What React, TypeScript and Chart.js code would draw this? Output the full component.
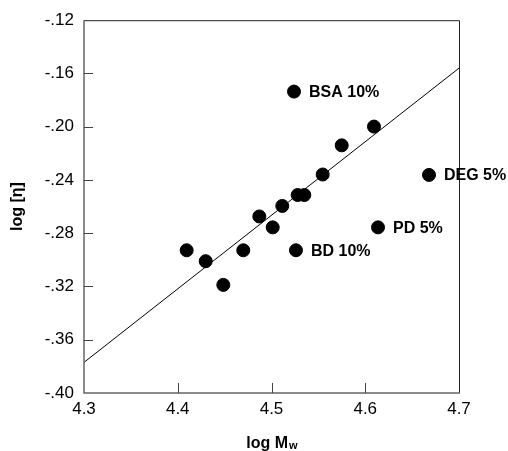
import React, { useEffect, useRef } from "react";
import { Chart, registerables } from "chart.js";

Chart.register(...registerables);

const xValues = [4.4095, 4.4298, 4.4486, 4.4699, 4.487, 4.5013, 4.5115, 4.5279, 4.535, 4.5546, 4.5749, 4.6093, 4.524, 4.668, 4.6136, 4.5261];
const yValues = [-0.2928, -0.301, -0.3188, -0.2928, -0.2674, -0.2756, -0.2595, -0.2513, -0.2513, -0.2359, -0.214, -0.1999, -0.1736, -0.2362, -0.2756, -0.2928];
const pointLabels = ["", "", "", "", "", "", "", "", "", "", "", "", "BSA 10%", "DEG 5%", "PD 5%", "BD 10%"];
const fitX = [4.3, 4.7];
const fitY = [-0.377, -0.156];
const xTicks = [4.3, 4.4, 4.5, 4.6, 4.7];
const yTicks = [-0.4, -0.36, -0.32, -0.28, -0.24, -0.2, -0.16, -0.12];
const xTitle = "log M";
const xTitleSub = "w";
const yTitle = "log [η]";

const FONT = "Arial, 'Liberation Sans', sans-serif";

const decorPlugin = {
  id: "decor",
  afterDraw(chart: any) {
    const { ctx, chartArea } = chart;
    const { left, right, top, bottom } = chartArea;
    const xs = chart.scales.x;
    const ys = chart.scales.y;
    ctx.save();
    // frame
    ctx.strokeStyle = "#222";
    ctx.lineWidth = 1;
    ctx.beginPath();
    ctx.moveTo(left, top + 0.5);
    ctx.lineTo(right + 0.5, top + 0.5);
    ctx.lineTo(right + 0.5, bottom);
    ctx.stroke();
    ctx.strokeStyle = "#666";
    ctx.lineWidth = 1.5;
    ctx.beginPath();
    ctx.moveTo(left, top);
    ctx.lineTo(left, bottom);
    ctx.lineTo(right + 1, bottom);
    ctx.stroke();
    // inward ticks
    ctx.lineWidth = 1;
    ctx.strokeStyle = "#444";
    ctx.beginPath();
    xTicks.slice(1, -1).forEach((v) => {
      const px = Math.round(xs.getPixelForValue(v)) + 0.5;
      ctx.moveTo(px, bottom);
      ctx.lineTo(px, bottom - 10);
    });
    yTicks.slice(1, -1).forEach((v) => {
      const py = Math.round(ys.getPixelForValue(v)) + 0.5;
      ctx.moveTo(left, py);
      ctx.lineTo(left + 9, py);
    });
    ctx.stroke();
    // point labels
    ctx.fillStyle = "#000";
    ctx.font = `bold 16px ${FONT}`;
    ctx.textAlign = "left";
    ctx.textBaseline = "middle";
    pointLabels.forEach((lab, i) => {
      if (!lab) return;
      const px = xs.getPixelForValue(xValues[i]);
      const py = ys.getPixelForValue(yValues[i]);
      ctx.fillText(lab, px + 15, py + 1);
    });
    // x title
    ctx.font = `bold 16px ${FONT}`;
    const w1 = ctx.measureText(xTitle).width;
    ctx.font = `bold 11px ${FONT}`;
    const w2 = ctx.measureText(xTitleSub).width;
    const cx = (left + right) / 2;
    const startX = cx - (w1 + w2) / 2;
    ctx.textBaseline = "alphabetic";
    ctx.font = `bold 16px ${FONT}`;
    ctx.fillText(xTitle, startX, 448);
    ctx.font = `bold 11px ${FONT}`;
    ctx.fillText(xTitleSub, startX + w1 + 1, 449);
    // y title
    ctx.translate(18, (top + bottom) / 2);
    ctx.rotate(-Math.PI / 2);
    ctx.font = `bold 16px ${FONT}`;
    ctx.textAlign = "center";
    ctx.textBaseline = "middle";
    ctx.fillText(yTitle, 0, 0);
    ctx.restore();
  },
};

export default function App() {
  const ref = useRef<HTMLCanvasElement>(null);
  useEffect(() => {
    document.body.style.margin = "0";
    const chart = new Chart(ref.current as HTMLCanvasElement, {
      type: "scatter",
      data: {
        datasets: [
          {
            type: "line",
            data: fitX.map((x, i) => ({ x, y: fitY[i] })),
            borderColor: "#000",
            borderWidth: 1,
            pointRadius: 0,
            fill: false,
          } as any,
          {
            data: xValues.map((x, i) => ({ x, y: yValues[i] })),
            backgroundColor: "#000",
            borderColor: "#000",
            pointRadius: 6.5,
            pointHoverRadius: 6.5,
          },
        ],
      },
      options: {
        animation: false,
        responsive: true,
        maintainAspectRatio: false,
        layout: { padding: { left: 0, right: 49, top: 17, bottom: 0 } },
        plugins: { legend: { display: false }, tooltip: { enabled: false } },
        events: [],
        scales: {
          x: {
            type: "linear",
            min: 4.3,
            max: 4.7,
            afterBuildTicks: (s: any) => {
              s.ticks = xTicks.map((v) => ({ value: v }));
            },
            afterFit: (s: any) => {
              s.height = 58;
            },
            grid: { display: false, drawTicks: false },
            border: { display: false },
            ticks: {
              padding: 6,
              color: "#000",
              font: { family: FONT, size: 17 },
              callback: (v: any) => Number(v).toFixed(1),
            },
          },
          y: {
            type: "linear",
            min: -0.4,
            max: -0.12,
            afterBuildTicks: (s: any) => {
              s.ticks = yTicks.map((v) => ({ value: v }));
            },
            afterFit: (s: any) => {
              s.width = 84;
            },
            grid: { display: false, drawTicks: false },
            border: { display: false },
            ticks: {
              padding: 10,
              color: "#000",
              font: { family: FONT, size: 17 },
              callback: (v: any) => Number(v).toFixed(2).replace("0.", "."),
            },
          },
        },
      },
      plugins: [decorPlugin],
    });
    return () => chart.destroy();
  }, []);
  return (
    <div style={{ width: 508, height: 451, position: "relative" }}>
      <canvas ref={ref} />
    </div>
  );
}
